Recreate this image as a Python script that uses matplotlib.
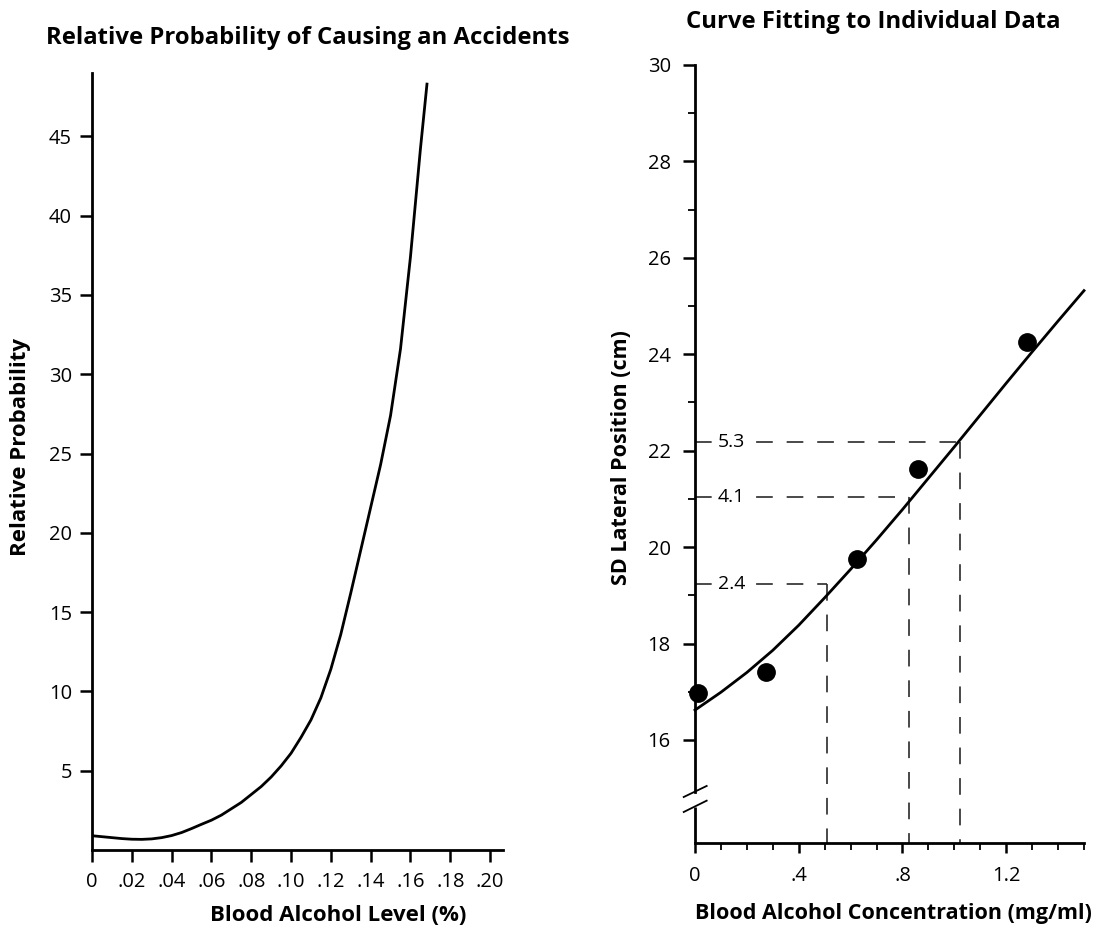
"""Two-panel chart: accident probability and lateral position vs. blood alcohol."""

import matplotlib

matplotlib.use("Agg")
import matplotlib.pyplot as plt

plt.rcParams["font.family"] = ["Open Sans", "DejaVu Sans"]
plt.rcParams["lines.scale_dashes"] = False

# Left panel: relative probability curve
bal_x = [0, .005, .01, .015, .02, .025, .03, .035, .04, .045, .05, .055,
         .06, .065, .07, .075, .08, .085, .09, .095, .10, .105, .11, .115,
         .12, .125, .13, .135, .14, .145, .15, .155, .16, .165, .1683]
rel_prob = [0.90, 0.84, 0.78, 0.72, 0.68, 0.67, 0.70, 0.78, 0.91, 1.10, 1.35,
            1.62, 1.88, 2.2, 2.6, 3.0, 3.5, 4.0, 4.6, 5.3, 6.1, 7.1, 8.2,
            9.6, 11.4, 13.6, 16.2, 18.9, 21.6, 24.3, 27.4, 31.6, 37.4, 44.2,
            48.3]
left_xticks = [0, .02, .04, .06, .08, .10, .12, .14, .16, .18, .20]
left_xlabels = ["0", ".02", ".04", ".06", ".08", ".10", ".12", ".14", ".16",
                ".18", ".20"]
left_yticks = [5, 10, 15, 20, 25, 30, 35, 40, 45]

# Right panel: individual data and fitted curve
bac_pts = [0.01, 0.275, 0.626, 0.86, 1.28]
sdlp_pts = [16.97, 17.41, 19.76, 21.63, 24.25]
fit_x = [0, .1, .2, .3, .4, .5, .6, .7, .8, .9, 1.0, 1.1, 1.2, 1.3, 1.4, 1.5]
fit_y = [16.62, 16.99, 17.40, 17.86, 18.38, 18.95, 19.54, 20.15, 20.78,
         21.43, 22.08, 22.74, 23.40, 24.05, 24.69, 25.32]
ref_levels = [19.23, 21.03, 22.19]
ref_bac = [0.51, 0.825, 1.02]
ref_labels = ["2.4", "4.1", "5.3"]
right_xticks = [0, 0.4, 0.8, 1.2]
right_xlabels = ["0", ".4", ".8", "1.2"]
right_yticks = [16, 18, 20, 22, 24, 26, 28, 30]
right_yminor = [17, 19, 21, 23, 25, 27, 29]

W, H = 1096, 927
fig = plt.figure(figsize=(W / 100, H / 100), dpi=100)

spine_lw = 2.0
tick_fs = 14.5

# ---- left panel
ax1 = fig.add_axes([92 / W, 1 - 850 / H, 411 / W, 777 / H])
ax1.plot(bal_x, rel_prob, color="black", lw=2.0)
ax1.set_xlim(0, 0.2065)
ax1.set_ylim(0, 49.0)
ax1.set_xticks(left_xticks)
ax1.set_xticklabels(left_xlabels)
ax1.set_yticks(left_yticks)
for side in ("top", "right"):
    ax1.spines[side].set_visible(False)
for side in ("left", "bottom"):
    ax1.spines[side].set_linewidth(spine_lw)
ax1.tick_params(direction="out", length=8.5, width=1.8, labelsize=tick_fs,
                pad=6)
ax1.tick_params(axis="x", pad=7)
ax1.set_xlabel("Blood Alcohol Level (%)", fontsize=16, fontweight="bold",
               va="center")
ax1.xaxis.set_label_coords(0.6, -0.084)
ax1.set_ylabel("Relative Probability", fontsize=16, fontweight="bold",
               va="center")
ax1.yaxis.set_label_coords(-0.175, 0.519)
fig.text(308 / W, 1 - 38 / H, "Relative Probability of Causing an Accidents",
         ha="center", va="center", fontsize=17.2, fontweight="bold")

# ---- right panel
ylow = 13.863
ax2 = fig.add_axes([695 / W, 1 - 843 / H, 389 / W, 778 / H])
ax2.set_xlim(0, 1.5)
ax2.set_ylim(ylow, 30)

dash = (12, 10)
for lvl, xb, lab in zip(ref_levels, ref_bac, ref_labels):
    ax2.plot([0, xb], [lvl, lvl], color="#2a2a2a", lw=1.2, dashes=dash)
    ax2.plot([xb, xb], [lvl, ylow], color="#2a2a2a", lw=1.2, dashes=dash)
    ax2.text(0.141, lvl, lab, ha="center", va="center", fontsize=14,
             bbox=dict(boxstyle="square,pad=0.3", fc="white", ec="none"))

ax2.plot(fit_x, fit_y, color="black", lw=2.0, clip_on=False)
ax2.plot(bac_pts, sdlp_pts, "o", color="black", ms=12.5, clip_on=False,
         zorder=5)

ax2.set_xticks(right_xticks)
ax2.set_xticklabels(right_xlabels)
ax2.set_xticks([v / 10 for v in range(16)], minor=True)
ax2.set_yticks(right_yticks)
ax2.set_yticks(right_yminor, minor=True)
for side in ("top", "right"):
    ax2.spines[side].set_visible(False)
for side in ("left", "bottom"):
    ax2.spines[side].set_linewidth(spine_lw)
ax2.spines["left"].set_bounds(14.93, 30)
# lower stub of the broken y axis and the break marks
ax2.plot([0, 0], [ylow, 14.62], color="black", lw=spine_lw, clip_on=False,
         solid_capstyle="butt")
ax2.plot([-0.0435, 0.045], [14.817, 15.046], color="black", lw=1.3,
         clip_on=False)
ax2.plot([-0.0435, 0.045], [14.506, 14.741], color="black", lw=1.3,
         clip_on=False)

ax2.tick_params(which="major", direction="out", length=8.5, width=1.8,
                labelsize=tick_fs, pad=9)
ax2.tick_params(which="minor", direction="out", length=5, width=1.3)
ax2.tick_params(axis="x", which="major", length=7.5, pad=9)
ax2.set_xlabel("Blood Alcohol Concentration (mg/ml)", fontsize=15.5,
               fontweight="bold", va="center")
ax2.xaxis.set_label_coords(0.509, -0.09)
ax2.set_ylabel("SD Lateral Position (cm)", fontsize=15.5, fontweight="bold",
               va="center")
ax2.yaxis.set_label_coords(-0.188, 0.496)
fig.text(873 / W, 1 - 22 / H, "Curve Fitting to Individual Data",
         ha="center", va="center", fontsize=17.2, fontweight="bold")

fig.savefig("out.png", dpi=100)
